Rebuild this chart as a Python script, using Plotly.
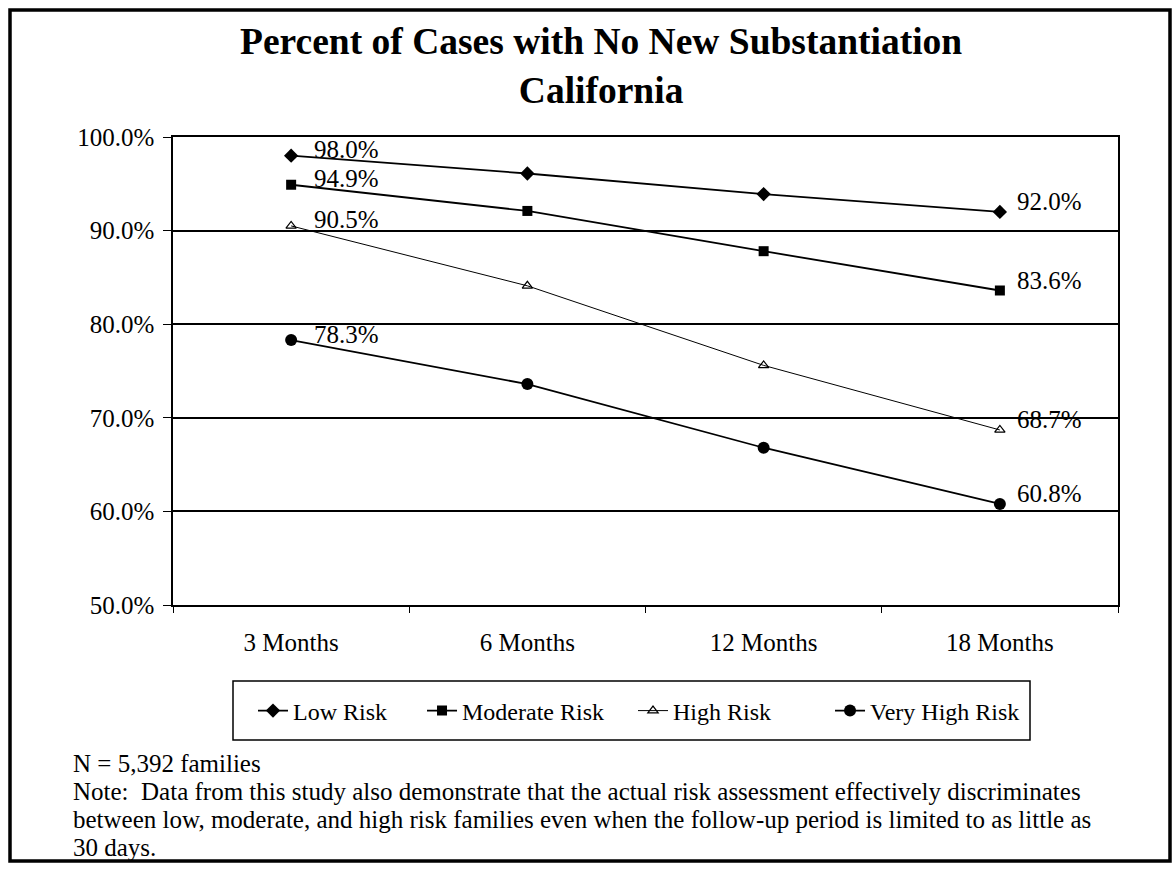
import plotly.graph_objects as go

categories = ["3 Months", "6 Months", "12 Months", "18 Months"]
low_risk = [98.0, 96.1, 93.9, 92.0]
moderate_risk = [94.9, 92.1, 87.8, 83.6]
high_risk = [90.5, 84.1, 75.6, 68.7]
very_high_risk = [78.3, 73.6, 66.8, 60.8]
series_names = ["Low Risk", "Moderate Risk", "High Risk", "Very High Risk"]
y_ticks = [50, 60, 70, 80, 90, 100]
y_tick_labels = ["50.0%", "60.0%", "70.0%", "80.0%", "90.0%", "100.0%"]
title_lines = ["Percent of Cases with No New Substantiation", "California"]
note_lines = [
    "N = 5,392 families",
    "Note:  Data from this study also demonstrate that the actual risk assessment effectively discriminates",
    "between low, moderate, and high risk families even when the follow-up period is limited to as little as",
    "30 days.",
]

FONT = "Liberation Serif, Times New Roman, serif"
W, H = 1174, 869
L, R, T, B = 173, 56, 137, 264
pw, ph = W - L - R, H - T - B

def px_x(p):
    return (p - L) / pw

def px_y(p):
    return (H - B - p) / ph

styles = [
    dict(symbol="diamond", size=11, line=dict(width=0), color="black"),
    dict(symbol="square", size=10, line=dict(width=0), color="black"),
    dict(symbol="triangle-up-open", size=9, line=dict(width=1.2, color="black"), color="black"),
    dict(symbol="circle", size=12, line=dict(width=0), color="black"),
]
widths = [1.8, 1.8, 1.0, 1.8]
legend_pad = [5, 4, 9, 0]  # trailing spacing in legend entries
all_series = [low_risk, moderate_risk, high_risk, very_high_risk]

fig = go.Figure()
for name, vals, st, lw, pad in zip(series_names, all_series, styles, widths, legend_pad):
    fig.add_trace(go.Scatter(
        x=categories, y=vals, name=name + "\u00a0" * pad, mode="lines+markers",
        line=dict(color="black", width=lw), marker=st,
    ))

annotations = []
for vals in all_series:
    for idx in (0, len(categories) - 1):
        annotations.append(dict(
            x=categories[idx], y=vals[idx], xref="x", yref="y",
            text=f"{vals[idx]:.1f}%", showarrow=False,
            xanchor="left", yanchor="middle",
            xshift=21 if idx == 0 else 15, yshift=6 if idx == 0 else 10,
            font=dict(family=FONT, size=25, color="black"),
        ))

annotations.append(dict(
    x=px_x(601), y=px_y(19), xref="paper", yref="paper",
    text="<b>" + "<br>".join(title_lines) + "</b>", showarrow=False,
    xanchor="center", yanchor="top", align="center",
    font=dict(family=FONT, size=37.5, color="black"),
))

for i, line in enumerate(note_lines):
    annotations.append(dict(
        x=px_x(71), y=px_y(763 + 28 * i), xref="paper", yref="paper",
        text=line, showarrow=False, xanchor="left", yanchor="middle", align="left",
        font=dict(family=FONT, size=25, color="black"),
    ))

fig.update_layout(
    width=W, height=H,
    margin=dict(l=L, r=R, t=T, b=B, autoexpand=False),
    paper_bgcolor="white", plot_bgcolor="white",
    font=dict(family=FONT, size=24, color="black"),
    showlegend=True,
    legend=dict(orientation="h", x=px_x(253), y=px_y(711), xanchor="left", yanchor="middle",
                borderwidth=0, bgcolor="rgba(0,0,0,0)",
                font=dict(family=FONT, size=24, color="black"),
                itemwidth=30, tracegroupgap=0),
    annotations=annotations,
    shapes=[
        dict(type="rect", xref="paper", yref="paper",
             x0=px_x(10), x1=px_x(1170), y0=px_y(861), y1=px_y(10),
             line=dict(color="black", width=3.5)),
        dict(type="rect", xref="paper", yref="paper",
             x0=px_x(233), x1=px_x(1030), y0=px_y(740), y1=px_y(681),
             line=dict(color="black", width=1.5)),
    ],
)
fig.update_xaxes(
    type="category", tickson="boundaries", ticks="outside", ticklen=6, tickcolor="black",
    showline=True, linecolor="black", linewidth=1.5, mirror=True, showgrid=False,
    tickfont=dict(family=FONT, size=25), ticklabelstandoff=14,
    range=[-0.5, 3.5],
)
fig.update_yaxes(
    range=[50, 100], tickvals=y_ticks, ticktext=y_tick_labels, ticks="outside", ticklen=8,
    tickcolor="black", showline=True, linecolor="black", linewidth=1.5, mirror=True,
    showgrid=True, gridcolor="black", gridwidth=1.5, zeroline=False,
    tickfont=dict(family=FONT, size=25), ticklabelstandoff=4,
)

fig.write_html("out.html", config={"displayModeBar": False},
               post_script="document.body.style.margin='0px';")
